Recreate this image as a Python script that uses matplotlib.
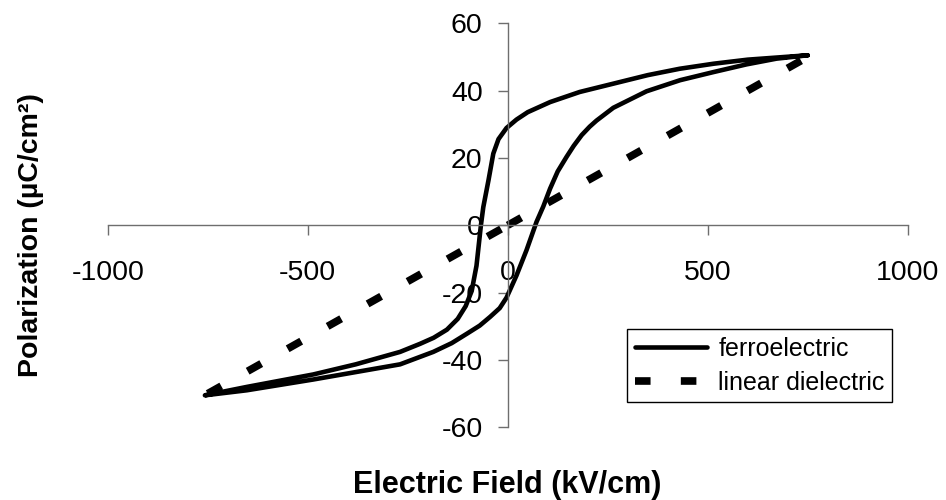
import matplotlib
matplotlib.use("Agg")
import matplotlib.pyplot as plt

plt.rcParams['font.family'] = ['Liberation Sans', 'DejaVu Sans']

# Ferroelectric hysteresis loop: descending (upper) branch
fe_down_E = [750, 600, 515, 430, 350, 265, 180, 106, 50, 22, -3, -23, -36, -48, -61,
             -67, -78, -90, -105, -125, -152, -185, -219, -269, -380, -486, -652, -757]
fe_down_P = [50.5, 49.2, 48.0, 46.5, 44.6, 42.1, 39.6, 36.6, 33.6, 31.4, 28.9, 25.6, 21.3,
             13.4, 5.4, 0.0, -12.0, -19.5, -24.0, -27.8, -31.0, -33.4, -35.2, -37.6, -41.3,
             -44.3, -48.0, -50.5]
# ascending (lower) branch
fe_up_E = [-757, -652, -486, -380, -269, -186, -140, -102, -70, -44, -20, -3, 22, 47, 72,
           89, 106, 125, 147, 165, 185, 205, 222, 264, 347, 431, 514, 597, 672, 750]
fe_up_P = [-50.5, -49.0, -45.8, -43.6, -41.3, -37.6, -35.0, -32.2, -29.8, -27.2, -24.6,
           -21.5, -14.9, -7.4, 1.0, 5.6, 10.9, 16.0, 20.3, 23.6, 26.8, 29.3, 31.1, 34.9,
           39.8, 43.1, 45.5, 47.8, 49.5, 50.5]
# Linear dielectric
lin_E = [-750, 0, 750]
lin_P = [-50, 0, 50]

x_ticks = [-1000, -500, 0, 500, 1000]
y_ticks = [-60, -40, -20, 0, 20, 40, 60]

W, H = 946, 500
fig = plt.figure(figsize=(W / 100, H / 100), dpi=100)
ax = fig.add_axes([107.7 / W, (H - 427.3) / H, 800 / W, 404 / H])

fe_E = fe_down_E + fe_up_E[1:]
fe_P = fe_down_P + fe_up_P[1:]
ax.plot(fe_E, fe_P, color='black', lw=3.3, solid_capstyle='round',
        solid_joinstyle='round', label='ferroelectric')

lw_d = 5.5
dash = (0, (11.2 / lw_d, 21.8 / lw_d))
for i in range(len(lin_E) - 1):
    ax.plot(lin_E[i:i + 2], lin_P[i:i + 2], color='black', lw=lw_d, linestyle=dash,
            dash_capstyle='butt', label='linear dielectric' if i == 0 else None)

ax.set_xlim(-1000, 1000)
ax.set_ylim(-60, 60)
ax.set_xticks(x_ticks)
ax.set_yticks(y_ticks)
ax.set_xticklabels([str(v) for v in x_ticks])
ax.set_yticklabels([str(v) for v in y_ticks])

spine_col = '#6e6e6e'
for s in ['top', 'right']:
    ax.spines[s].set_visible(False)
ax.spines['left'].set_position(('data', 0))
ax.spines['bottom'].set_position(('data', 0))
for s in ['left', 'bottom']:
    ax.spines[s].set_color(spine_col)
    ax.spines[s].set_linewidth(1.0)
ax.tick_params(axis='both', direction='out', length=7, width=1.0, color=spine_col,
               labelsize=20.5, labelcolor='black')
ax.tick_params(axis='x', pad=18)
ax.tick_params(axis='y', pad=11)
ax.set_facecolor('none')

fig.text(507 / W, 1 - 493 / H, 'Electric Field (kV/cm)', ha='center', va='baseline',
         fontsize=22, fontweight='bold')
fig.text(31 / W, 1 - 235 / H, 'Polarization (µC/cm²)', ha='center', va='center',
         rotation=90, fontsize=20.5, fontweight='bold')

leg = ax.legend(loc='upper left', bbox_to_anchor=(627 / W, 1 - 329 / H),
                bbox_transform=fig.transFigure, borderaxespad=0, fontsize=18,
                frameon=True, fancybox=False, framealpha=1, edgecolor='black',
                handlelength=2.9, handletextpad=0.45, labelspacing=0.4,
                borderpad=0.3)
leg.get_frame().set_linewidth(1.0)

fig.savefig('out.png', dpi=100)
